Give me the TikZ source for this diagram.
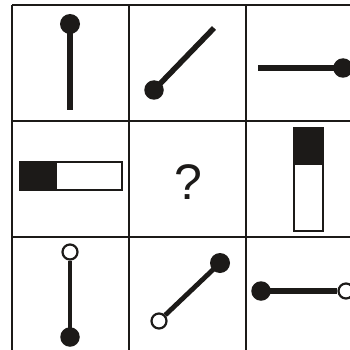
\documentclass[tikz,border=0pt]{standalone}
\usepackage{fontspec}
\setmainfont{Liberation Sans}
\definecolor{ink}{HTML}{1C1A18}
\begin{document}
\begin{tikzpicture}[x=1pt,y=-1pt,
  gridline/.style={line width=2.8pt, draw=ink},
  stick/.style={line width=5.5pt, draw=ink},
  thinstick/.style={line width=4.8pt, draw=ink},
  ball/.style={circle, fill=ink, inner sep=0pt, minimum size=19.5pt},
  ring/.style={circle, draw=ink, fill=white, line width=2.2pt, inner sep=0pt, minimum size=15pt},
  bar/.style={draw=ink, line width=1.8pt, fill=white},
  barfill/.style={fill=ink}]
\useasboundingbox (0,0) rectangle (350,350);
\fill[white] (0,0) rectangle (350,350);
\begin{scope}
\clip (0,0) rectangle (350,350);
% grid
\foreach \x in {12,129,246,363} \draw[gridline] (\x,5) -- (\x,353);
\foreach \y in {5,121,237,353} \draw[gridline] (12,\y) -- (363,\y);
% row 1
\coordinate (e11) at (70,110);
\node[ball, minimum size=20pt] (b11) at (70,24) {};
\draw[stick, line width=6pt] (b11.center) -- (e11);
\coordinate (e12) at (214,28);
\node[ball] (b12) at (154,90) {};
\draw[stick] (b12.center) -- (e12);
\coordinate (e13) at (258,68);
\node[ball] (b13) at (343,68) {};
\draw[stick] (e13) -- (b13.center);
% row 2
\draw[bar] (20,162) rectangle (122,190);
\fill[barfill] (20,162) rectangle (57,190);
\draw[bar, fill=none] (20,162) rectangle (122,190);
\node[font=\fontsize{50}{50}\selectfont, text=ink, inner sep=0pt] (q) at (188,182) {?};
\draw[bar] (294,128) rectangle (323,231);
\fill[barfill] (294,128) rectangle (323,165);
\draw[bar, fill=none] (294,128) rectangle (323,231);
% row 3
\node[ring] (r31) at (70,252) {};
\node[ball] (b31) at (70,337) {};
\draw[thinstick] (r31) -- (b31.center);
\node[ring] (r32) at (159,321) {};
\node[ball, minimum size=20pt] (b32) at (220,263) {};
\draw[thinstick] (r32) -- (b32.center);
\node[ball] (b33) at (261,291) {};
\node[ring] (r33) at (346,291) {};
\draw[stick] (b33.center) -- (r33);
\end{scope}
\end{tikzpicture}
\end{document}
